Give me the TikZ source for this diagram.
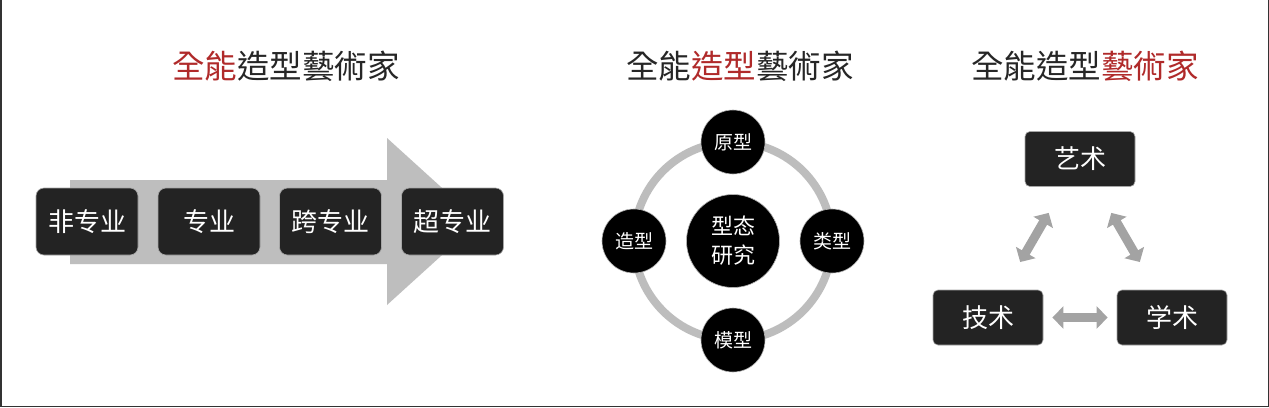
\documentclass[tikz,border=0pt]{standalone}
\usepackage{fontspec}
\newfontfamily\cjk{Noto Sans CJK SC}
\newfontfamily\cjktc{Noto Sans CJK TC}
\usetikzlibrary{arrows.meta,calc}
\definecolor{titlered}{HTML}{B02A2A}
\definecolor{boxfill}{HTML}{232323}
\definecolor{arrowgray}{HTML}{BEBEBE}
\definecolor{ringgray}{HTML}{BDBDBD}
\definecolor{fatgray}{HTML}{A3A3A3}
\tikzset{
  titletext/.style={font=\cjktc\fontsize{32.5}{36}\selectfont, text=black!85, inner sep=0pt},
  stagebox/.style={draw=gray!70, line width=0.6pt, fill=boxfill, rounded corners=8pt,
    minimum width=102pt, minimum height=67pt, text=white, font=\cjk\fontsize{26}{30}\selectfont, inner sep=0pt},
  smallball/.style={circle, draw=gray!60, line width=0.6pt, fill=black, minimum size=64pt,
    text=white, font=\cjk\fontsize{19}{22}\selectfont, inner sep=0pt},
  bigball/.style={circle, draw=gray!60, line width=0.6pt, fill=black, minimum size=93pt,
    text=white, font=\cjk\fontsize{22}{29}\selectfont, inner sep=0pt, align=center},
  triobox/.style={draw=gray!70, line width=0.6pt, fill=boxfill, rounded corners=5pt,
    minimum width=110pt, minimum height=55pt, text=white, font=\cjk\fontsize{26}{30}\selectfont, inner sep=0pt},
  fat/.style={draw=fatgray, line width=9pt,
    {Triangle[width=22pt,length=11pt]}-{Triangle[width=22pt,length=11pt]}},
  ring/.style={draw=ringgray, line width=8pt},
}
\begin{document}
\begin{tikzpicture}[x=1pt,y=-1pt]
\useasboundingbox (0,0) rectangle (1269,407);
\fill[white] (0,0) rectangle (1269,407);
\draw[black!80, line width=1.5pt] (0.75,0) -- (0.75,406.25) -- (1268.25,406.25) -- (1268.25,0);

% titles
\node[titletext] (t1) at (286,66) {\textcolor{titlered}{全能}造型藝術家};
\node[titletext] (t2) at (740,66) {全能\textcolor{titlered}{造型}藝術家};
\node[titletext] (t3) at (1085,66) {全能造型\textcolor{titlered}{藝術家}};

% left: big arrow
\fill[arrowgray] (70,180) -- (387,180) -- (387,138) -- (479,221.5) -- (387,305) -- (387,264) -- (70,264) -- cycle;
\node[stagebox] (s1) at (87,221.5) {非专业};
\node[stagebox] (s2) at (209,221.5) {专业};
\node[stagebox] (s3) at (330.5,221.5) {跨专业};
\node[stagebox] (s4) at (452.5,221.5) {超专业};

% middle: ring
\coordinate (rc) at (733,241);
\draw[ring] (rc) circle (99);
\node[bigball] (c) at (rc) {型态\\研究};
\node[smallball] (top) at (733,142) {原型};
\node[smallball] (left) at (634,241) {造型};
\node[smallball] (right) at (832,241) {类型};
\node[smallball] (bottom) at (733,340) {模型};

% right: triangle
\node[triobox] (yi) at (1080,159) {艺术};
\node[triobox] (ji) at (988,317.5) {技术};
\node[triobox] (xue) at (1172,317.5) {学术};
\draw[fat] ($(ji)!0.35!(yi)$) -- ($(ji)!0.66!(yi)$);
\draw[fat] ($(yi)!0.34!(xue)$) -- ($(yi)!0.65!(xue)$);
\draw[fat] ($(ji)!0.35!(xue)$) -- ($(ji)!0.65!(xue)$);
\end{tikzpicture}
\end{document}
